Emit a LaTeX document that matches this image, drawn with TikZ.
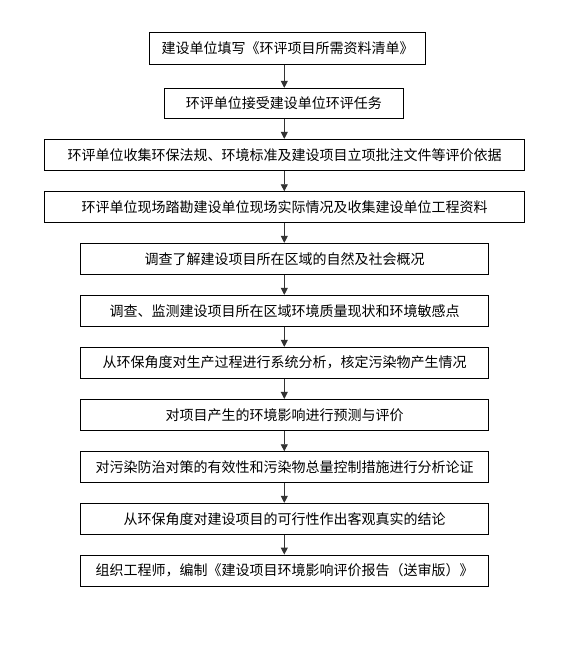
\documentclass[tikz,border=0pt]{standalone}
\usepackage{fontspec}
\setmainfont{Noto Sans CJK SC}
\usetikzlibrary{arrows.meta}
\begin{document}
\begin{tikzpicture}[x=1pt,y=-1pt,
  stepbox/.style={draw=black,line width=0.9pt,inner sep=0pt,minimum height=31pt,font=\fontsize{14pt}{16pt}\selectfont,text=black},
  arr/.style={line width=0.9pt,draw=black!80,-{Triangle[length=7pt,width=7pt]}}]
\useasboundingbox (0,0) rectangle (565,645);
\fill[white] (0,0) rectangle (565,645);
\coordinate (ax) at (284.3,0);
\node[stepbox,minimum width=276.4pt,minimum height=31.7pt] (b1) at (287.5,48.2) {建设单位填写《环评项目所需资料清单》};
\node[stepbox,minimum width=239pt,minimum height=30pt] (b2) at (283.8,103.3) {环评单位接受建设单位环评任务};
\node[stepbox,minimum width=480.5pt] (b3) at (284.6,154.8) {环评单位收集环保法规、环境标准及建设项目立项批注文件等评价依据};
\node[stepbox,minimum width=479.6pt] (b4) at (284.5,207.2) {环评单位现场踏勘建设单位现场实际情况及收集建设单位工程资料};
\node[stepbox,minimum width=408.4pt] (b5) at (284.5,258.8) {调查了解建设项目所在区域的自然及社会概况};
\node[stepbox,minimum width=408.4pt] (b6) at (284.5,310.8) {调查、监测建设项目所在区域环境质量现状和环境敏感点};
\node[stepbox,minimum width=408.4pt] (b7) at (284.5,362.8) {从环保角度对生产过程进行系统分析，核定污染物产生情况};
\node[stepbox,minimum width=408.4pt,minimum height=30.7pt] (b8) at (284.5,414.7) {对项目产生的环境影响进行预测与评价};
\node[stepbox,minimum width=408.4pt,minimum height=30.6pt] (b9) at (284.5,467.0) {对污染防治对策的有效性和污染物总量控制措施进行分析论证};
\node[stepbox,minimum width=408.4pt] (b10) at (284.5,518.8) {从环保角度对建设项目的可行性作出客观真实的结论};
\node[stepbox,minimum width=408.4pt] (b11) at (284.5,570.5) {组织工程师，编制《建设项目环境影响评价报告（送审版）》};
\foreach \a/\b in {b1/b2,b2/b3,b3/b4,b4/b5,b5/b6,b6/b7,b7/b8,b8/b9,b9/b10,b10/b11}
  \draw[arr] (\a.south -| ax) -- (\b.north -| ax);
\end{tikzpicture}
\end{document}
